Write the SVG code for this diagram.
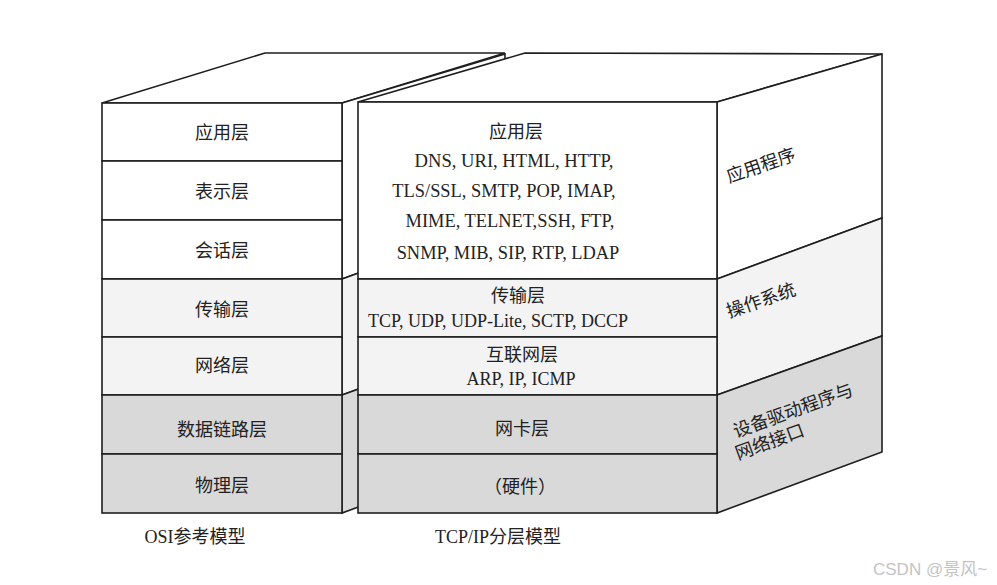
<svg xmlns="http://www.w3.org/2000/svg" width="997" height="585" viewBox="0 0 997 585">
<style>
.e{stroke:#1e1e1e;stroke-width:1.6;stroke-linejoin:miter}
.w{fill:#ffffff}
.l{fill:#f3f3f3}
.g{fill:#d9d9d9}
text{font-family:"Liberation Serif","Noto Sans CJK SC",serif;font-size:18px;fill:#222;text-anchor:middle}
.s{text-anchor:start}
.wm{font-family:"Liberation Sans","Noto Sans CJK SC",sans-serif;font-size:17px;fill:#c4c4c4;text-anchor:start}
</style>
<rect width="997" height="585" fill="#ffffff"/>

<g id="osi">
  <polygon class="e w" points="102,103 265,53 505,53 342,103"/>
  <polygon class="e w" points="342,103 505,54 505,220 342,279"/>
  <polygon class="e l" points="342,279 505,220 505,336 342,395"/>
  <polygon class="e g" points="342,395 505,336 505,453 342,513"/>
  <g id="osi-app"><rect class="e w" x="102" y="103" width="240" height="58"/><text x="222" y="139">应用层</text></g>
  <g id="osi-pres"><rect class="e w" x="102" y="161" width="240" height="59"/><text x="222" y="198">表示层</text></g>
  <g id="osi-sess"><rect class="e w" x="102" y="220" width="240" height="59"/><text x="222" y="257">会话层</text></g>
  <g id="osi-trans"><rect class="e l" x="102" y="279" width="240" height="58"/><text x="222" y="316">传输层</text></g>
  <g id="osi-net"><rect class="e l" x="102" y="337" width="240" height="58"/><text x="222" y="372">网络层</text></g>
  <g id="osi-link"><rect class="e g" x="102" y="395" width="240" height="59"/><text x="222" y="436">数据链路层</text></g>
  <g id="osi-phys"><rect class="e g" x="102" y="454" width="240" height="59"/><text x="222" y="492">物理层</text></g>
  <text id="osi-title" x="195" y="543">OSI参考模型</text>
</g>

<g id="tcpip">
  <polygon class="e w" points="358,102 525,53 882,54 717,102"/>
  <g id="side-app"><polygon class="e w" points="717,102 882,54 882,218 717,279"/><text class="s" transform="translate(729,183) rotate(-19)">应用程序</text></g>
  <g id="side-os"><polygon class="e l" points="717,279 882,218 882,336 717,395"/><text class="s" transform="translate(729,318) rotate(-19)">操作系统</text></g>
  <g id="side-drv"><polygon class="e g" points="717,395 882,336 882,452 717,513"/><text class="s" transform="translate(736,438) rotate(-20)">设备驱动程序与</text><text class="s" transform="translate(738,460) rotate(-20)">网络接口</text></g>
  <g id="tcp-app"><rect class="e w" x="358" y="102" width="359" height="177"/>
    <text x="516" y="138">应用层</text>
    <text x="514" y="167" style="font-size:18.6px">DNS, URI, HTML, HTTP,</text>
    <text x="504" y="197" style="font-size:18.4px">TLS/SSL, SMTP, POP, IMAP,</text>
    <text x="510" y="227" style="font-size:18.4px">MIME, TELNET,SSH, FTP,</text>
    <text x="508" y="259" style="font-size:18.4px">SNMP, MIB, SIP, RTP, LDAP</text>
  </g>
  <g id="tcp-trans"><rect class="e l" x="358" y="279" width="359" height="58"/>
    <text x="518" y="302">传输层</text>
    <text x="498" y="327">TCP, UDP, UDP-Lite, SCTP, DCCP</text>
  </g>
  <g id="tcp-inet"><rect class="e l" x="358" y="337" width="359" height="58"/>
    <text x="522" y="361">互联网层</text>
    <text x="521" y="385">ARP, IP, ICMP</text>
  </g>
  <g id="tcp-nic"><rect class="e g" x="358" y="395" width="359" height="59"/><text x="522" y="435">网卡层</text></g>
  <g id="tcp-hw"><rect class="e g" x="358" y="454" width="359" height="59"/><text x="520" y="493">（硬件）</text></g>
  <text id="tcp-title" x="498" y="543">TCP/IP分层模型</text>
</g>

<g id="connectors"></g>

<text class="wm" x="873" y="575">CSDN @景风~</text>
</svg>
